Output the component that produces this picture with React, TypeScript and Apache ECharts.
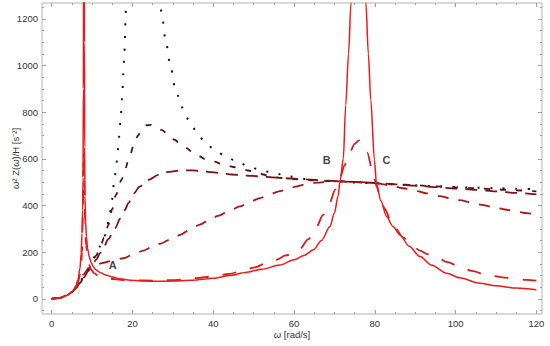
import React, { useEffect, useRef } from 'react';
import * as echarts from 'echarts';

// ---- tick values ----
const xTicks = [0, 20, 40, 60, 80, 100, 120];
const yTicks = [0, 200, 400, 600, 800, 1000, 1200];
const xMinorTicks = [5, 10, 15, 25, 30, 35, 45, 50, 55, 65, 70, 75, 85, 90, 95, 105, 110, 115];
const yMinorTicks = [-50, 50, 100, 150, 250, 300, 350, 450, 500, 550, 650, 700, 750, 850, 900, 950, 1050, 1100, 1150, 1250];

// ---- series data [omega, value] ----
const redSolid: [number, number][] = [
  [0, 0], [1, 1], [2, 4], [3, 9], [4, 17], [5, 30], [5.5, 40], [6, 56], [6.5, 82], [7, 130], [7.3, 195],
  [7.5, 280], [7.65, 380], [7.75, 520], [7.85, 900], [7.92, 1800], [7.97, 3500], [8.03, 2500], [8.1, 1100],
  [8.17, 650], [8.24, 440], [8.4, 330], [8.6, 265], [8.9, 215], [9.3, 180], [9.8, 155], [10.3, 138],
  [11, 124], [12, 113], [13.6, 101], [15, 94], [17, 86], [19.4, 80], [22, 77], [25, 75.5], [30, 76],
  [35.9, 81], [40, 88], [44.1, 100], [48, 113], [52, 127], [56.5, 145], [60, 168], [62.5, 186], [64.8, 210],
  [66.8, 250], [68.9, 310], [70, 368], [70.9, 440], [71.4, 503], [72.2, 600], [72.8, 830], [73.5, 1050],
  [74.1, 1268], [74.8, 1800], [75.5, 3000], [76, 3800], [76.5, 3000], [77.2, 1800], [77.8, 1268],
  [78.4, 1050], [79, 853], [79.9, 596], [80.4, 497], [81.5, 420], [82.9, 353], [84.5, 310], [86.2, 275],
  [88.5, 225], [91.2, 181], [94, 145], [97.8, 110], [101, 90], [106, 67], [110, 56], [115, 46], [120, 39],
];

const redDash: [number, number][] = [
  [0, 0], [2, 4], [4, 16], [5, 28], [6, 50], [6.5, 70], [7, 102], [7.3, 145], [7.5, 200], [7.65, 290],
  [7.75, 400], [7.85, 560], [7.92, 635], [8.0, 600], [8.1, 470], [8.25, 330], [8.5, 230], [9, 160],
  [9.7, 127], [10.5, 110], [11.5, 99], [13, 90], [15, 85], [17, 81], [20, 79], [25, 78], [30, 80],
  [32.5, 83], [36, 89], [40, 96], [44, 107], [47.4, 121], [50, 134], [53.3, 153], [55.5, 167], [58, 186],
  [61.5, 215], [63.5, 255], [65.6, 310], [67.2, 360], [68.9, 415], [70.2, 468], [71.4, 520], [72.5, 572],
  [73.8, 628], [75, 664], [76.1, 679], [77.1, 667], [78.1, 628], [79.5, 545], [80.5, 480], [81.3, 438],
  [82.5, 385], [83.7, 345], [85, 305], [87, 263], [89, 232], [91.2, 207], [93, 192], [95.3, 178],
  [98, 157], [101, 138], [104, 120], [107.7, 103], [112, 91], [117.6, 81], [120, 78],
];

const darkRedA: [number, number][] = [
  [0, 0], [2, 4], [4, 17], [5, 29], [6, 46], [7, 75], [7.8, 103], [9, 128], [10.3, 143], [11.5, 149],
  [12.4, 153], [15, 163], [17.7, 174], [20.2, 189], [22.7, 207], [25.1, 224], [27, 237], [29.3, 254],
  [31.8, 274], [34.2, 296], [36.7, 318], [39.2, 340], [41.2, 356], [44.1, 378], [46.6, 396], [49.1, 416],
  [51.6, 432], [54, 448], [56.5, 462], [59.8, 479], [63.1, 491], [65.6, 498], [68.9, 503], [72, 504],
  [76, 501], [80, 496], [83.7, 487], [87, 474], [90.3, 462], [92.8, 452], [96.1, 440], [98.6, 431],
  [101, 423], [104, 412], [106.4, 403], [109.7, 392], [112.2, 383], [115, 374], [117.6, 367], [120, 361],
];

const darkRedB: [number, number][] = [
  [0, 0], [2, 4], [4, 17], [5, 29], [6, 45], [7, 68], [8, 92], [9, 118], [10, 142], [11, 168], [12, 196],
  [13, 226], [14, 256], [15.7, 303], [17, 345], [18.1, 381], [19, 410], [20.2, 450], [21.9, 482],
  [23.9, 510], [26.4, 531], [28.5, 543], [31.8, 550], [34.7, 551], [37, 548], [39.6, 543], [42.1, 538],
  [44.6, 533], [47, 530], [49.5, 527], [52, 524], [54.5, 521], [60, 515], [65, 510], [70, 505], [75, 501],
  [80, 497], [85, 491], [90, 485], [95, 479], [100, 473], [105, 467], [110, 461], [115, 454], [120, 448],
];

const darkRedC: [number, number][] = [
  [0, 0], [2, 4], [4, 17], [5, 29], [6, 45], [7, 68], [8, 95], [9, 122], [10, 152], [11, 185], [12, 222],
  [13, 262], [14, 315], [15, 385], [15.9, 445], [17.3, 510], [18.1, 553], [19.4, 617], [20.2, 653],
  [21.4, 700], [22.3, 730], [23.5, 744], [24.5, 746], [25.5, 741], [27.2, 724], [28.5, 710], [30.5, 681],
  [31.3, 672], [33.4, 646], [34.7, 631], [36.7, 610], [37.9, 600], [40.4, 588], [41.7, 580], [43.7, 570],
  [45, 565], [47, 556], [48.7, 550], [50.7, 540], [52.4, 533], [54, 525], [57, 518], [60, 513], [65, 508],
  [70, 504], [75, 500], [80, 496], [85, 492], [90, 487], [95, 482], [100, 478], [105, 474], [110, 469],
  [115, 465], [120, 461],
];

const blackDotted: [number, number][] = [
  [0, 0], [2, 4], [4, 17], [5, 29], [6, 46], [7, 70], [8, 100], [9, 130], [10, 162], [11, 195], [12, 225],
  [13, 265], [13.6, 296], [14.3, 355], [14.9, 424], [15.5, 505], [16.1, 588], [16.7, 696], [17.1, 775],
  [17.4, 856], [17.9, 1017], [18.4, 1239], [18.8, 1420], [20, 1900], [22, 2300], [24, 2000], [26, 1450],
  [27.2, 1231], [28.2, 1110], [29.3, 1010], [30.5, 910], [31.6, 860], [32.6, 810], [34.1, 760],
  [35.9, 717], [37.5, 681], [39.9, 646], [42.5, 617], [45.4, 593], [48.3, 572], [51.1, 556], [54.5, 541],
  [59, 524], [63.1, 513], [67, 507], [71, 503], [75, 499], [80, 495], [85, 490], [90, 486], [95, 482],
  [100, 479], [105, 476], [110, 474], [115, 472], [120, 470],
];

// ---- annotation labels ----
const labelText = ['A', 'B', 'C'];
const labelX = [15.1, 68.1, 82.9];
const labelY = [143, 596, 596];

const FONT = 'Liberation Sans, Arial, sans-serif';
const FRAME = '#b4b4b4';
const TICK = '#a0a0a0';

export default function App() {
  const ref = useRef<HTMLDivElement>(null);
  useEffect(() => {
    const chart = echarts.init(ref.current!, null, { renderer: 'svg' });
    const xr = { min: -2.4, max: 121.4 };
    const yr = { min: -65, max: 1268 };
    const baseAxis = {
      type: 'value' as const,
      splitLine: { show: false },
      axisLine: { show: false, onZero: false },
    };
    const xAxis = [
      {
        ...baseAxis, ...xr, position: 'bottom',
        axisTick: { show: true, inside: true, length: 4, customValues: xTicks, lineStyle: { color: TICK } },
        axisLabel: { show: true, customValues: xTicks, formatter: (v: number) => String(v), color: '#333', fontSize: 9.5, lineHeight: 10, fontFamily: FONT, margin: 4 },
        name: '{i|ω} [rad/s]', nameLocation: 'middle', nameGap: 15, nameMoveOverlap: false,
        nameTextStyle: { color: '#333', fontSize: 9.5, lineHeight: 10, fontFamily: FONT, rich: { i: { fontStyle: 'italic', fontSize: 9.5, lineHeight: 10, fontFamily: FONT, color: '#333' } } },
      },
      {
        ...baseAxis, ...xr, position: 'bottom',
        axisTick: { show: true, inside: true, length: 2, customValues: xMinorTicks, lineStyle: { color: TICK } },
        axisLabel: { show: false },
      },
      {
        ...baseAxis, ...xr, position: 'top',
        axisTick: { show: true, inside: true, length: 4, customValues: xTicks, lineStyle: { color: TICK } },
        axisLabel: { show: false },
      },
      {
        ...baseAxis, ...xr, position: 'top',
        axisTick: { show: true, inside: true, length: 2, customValues: xMinorTicks, lineStyle: { color: TICK } },
        axisLabel: { show: false },
      },
    ];
    const yAxis = [
      {
        ...baseAxis, ...yr, position: 'left',
        axisTick: { show: true, inside: true, length: 4, customValues: yTicks, lineStyle: { color: TICK } },
        axisLabel: { show: true, customValues: yTicks, formatter: (v: number) => String(v), color: '#333', fontSize: 9.5, fontFamily: FONT, margin: 4 },
        name: '{i|ω}² Z({i|ω})/H [s⁻²]', nameLocation: 'middle', nameGap: 22, nameRotate: 90, nameMoveOverlap: false,
        nameTextStyle: { color: '#333', fontSize: 9.5, fontFamily: FONT, rich: { i: { fontStyle: 'italic', fontSize: 9.5, fontFamily: FONT, color: '#333' } } },
      },
      {
        ...baseAxis, ...yr, position: 'left',
        axisTick: { show: true, inside: true, length: 2, customValues: yMinorTicks, lineStyle: { color: TICK } },
        axisLabel: { show: false },
      },
      {
        ...baseAxis, ...yr, position: 'right',
        axisTick: { show: true, inside: true, length: 4, customValues: yTicks, lineStyle: { color: TICK } },
        axisLabel: { show: false },
      },
      {
        ...baseAxis, ...yr, position: 'right',
        axisTick: { show: true, inside: true, length: 2, customValues: yMinorTicks, lineStyle: { color: TICK } },
        axisLabel: { show: false },
      },
    ];
    const line = (data: [number, number][], color: string, width: number, type: any, z: number) => ({
      type: 'line',
      data,
      xAxisIndex: 0,
      yAxisIndex: 0,
      showSymbol: false,
      symbol: 'none',
      smooth: 0.3,
      smoothMonotone: 'x',
      clip: true,
      z,
      lineStyle: { color, width, type },
    });
    chart.setOption({
      animation: false,
      backgroundColor: '#ffffff',
      grid: { left: 42, right: 8, top: 3, bottom: 32, show: true, borderColor: FRAME, borderWidth: 1, outerBoundsMode: 'none' },
      xAxis,
      yAxis,
      series: [
        line(blackDotted, '#111111', 2, [2, 10.5], 2),
        line(darkRedC, '#561010', 1.8, [6, 10], 3),
        line(darkRedB, '#7e1010', 1.8, [12, 8], 4),
        line(darkRedA, '#a81818', 1.8, [11, 10], 5),
        line(redDash, '#d81c1c', 1.8, [14, 14], 6),
        line(redSolid, '#f01818', 1.5, 'solid', 7),
        {
          type: 'scatter',
          xAxisIndex: 0,
          yAxisIndex: 0,
          symbolSize: 1,
          itemStyle: { color: 'rgba(0,0,0,0)' },
          z: 10,
          data: labelText.map((t, i) => ({ name: t, value: [labelX[i], labelY[i]] })),
          label: {
            show: true, position: 'inside', formatter: (p: any) => p.name,
            color: '#111', fontSize: 11, fontWeight: 'bold', fontFamily: FONT,
          },
        },
      ],
    });
    return () => chart.dispose();
  }, []);
  return <div ref={ref} style={{ position: 'fixed', left: 0, top: 0, width: 550, height: 346 }} />;
}
